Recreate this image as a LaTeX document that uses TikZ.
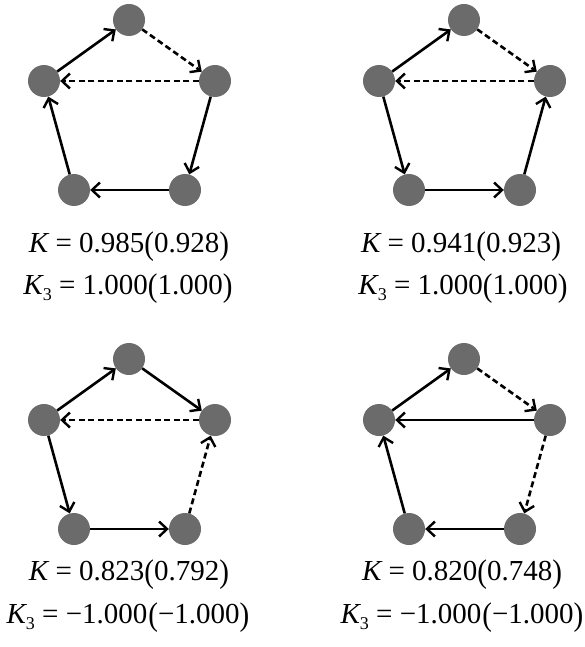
\documentclass[tikz,border=0pt]{standalone}
\usepackage{graphicx}
\usepackage{fontspec}
\setmainfont{Liberation Serif}
\usetikzlibrary{arrows.meta}
\definecolor{vgray}{RGB}{107,107,107}
\newcommand{\Kthree}{{\itshape K}\raisebox{-0.22em}{\fontsize{18}{18}\selectfont 3}}
\newcommand{\lpar}{\raisebox{-0.07em}{\scalebox{1}[1.13]{(}}}
\newcommand{\rpar}{\raisebox{-0.07em}{\scalebox{1}[1.13]{)}}}
\begin{document}
\begin{tikzpicture}[x=1pt,y=-1pt,
  vtx/.style={circle,fill=vgray,draw=none,minimum size=32pt,inner sep=0pt},
  arr/.style={line width=2.6pt,-{Straight Barb[length=8pt,width=15pt,line width=2.4pt]}},
  dsh/.style={arr,dash pattern=on 6pt off 3.5pt},
  lab/.style={anchor=base,inner sep=0pt,font=\fontsize{29}{34}\selectfont}]
\useasboundingbox (0,0) rectangle (585,647);
% panel 1
\begin{scope}
\node[vtx] (at) at (129,20) {};
\node[vtx] (al) at (44,81) {};
\node[vtx] (ar) at (215,81) {};
\node[vtx] (abl) at (74,190) {};
\node[vtx] (abr) at (185,190) {};
\draw[arr] (al) -- (at);
\draw[dsh] (at) -- (ar);
\draw[dsh] (ar) -- (al);
\draw[arr] (ar) -- (abr);
\draw[arr] (abr) -- (abl);
\draw[arr] (abl) -- (al);
\end{scope}
\node[lab] (ak) at (129,252) {{\itshape K} = 0.985\lpar0.928\rpar};
\node[lab] (ak3) at (128,294) {\Kthree\ = 1.000\lpar1.000\rpar};
% panel 2
\begin{scope}[xshift=335pt]
\node[vtx] (bt) at (129,20) {};
\node[vtx] (bl) at (44,81) {};
\node[vtx] (br) at (215,81) {};
\node[vtx] (bbl) at (74,190) {};
\node[vtx] (bbr) at (185,190) {};
\draw[arr] (bl) -- (bt);
\draw[dsh] (bt) -- (br);
\draw[dsh] (br) -- (bl);
\draw[arr] (bl) -- (bbl);
\draw[arr] (bbl) -- (bbr);
\draw[arr] (bbr) -- (br);
\end{scope}
\node[lab] (bk) at (461,252) {{\itshape K} = 0.941\lpar0.923\rpar};
\node[lab] (bk3) at (463,294) {\Kthree\ = 1.000\lpar1.000\rpar};
% panel 3
\begin{scope}[yshift=-339pt]
\node[vtx] (ct) at (129,20) {};
\node[vtx] (cl) at (44,81) {};
\node[vtx] (cr) at (215,81) {};
\node[vtx] (cbl) at (74,190) {};
\node[vtx] (cbr) at (185,190) {};
\draw[arr] (cl) -- (ct);
\draw[arr] (ct) -- (cr);
\draw[dsh] (cr) -- (cl);
\draw[arr] (cl) -- (cbl);
\draw[arr] (cbl) -- (cbr);
\draw[dsh] (cbr) -- (cr);
\end{scope}
\node[lab] (ck) at (129,580) {{\itshape K} = 0.823\lpar0.792\rpar};
\node[lab] (ck3) at (128,623) {\Kthree\ = −1.000\kern1pt\lpar−1.000\rpar};
% panel 4
\begin{scope}[xshift=335pt,yshift=-339pt]
\node[vtx] (dt) at (129,20) {};
\node[vtx] (dl) at (44,81) {};
\node[vtx] (dr) at (215,81) {};
\node[vtx] (dbl) at (74,190) {};
\node[vtx] (dbr) at (185,190) {};
\draw[arr] (dl) -- (dt);
\draw[dsh] (dt) -- (dr);
\draw[arr] (dr) -- (dl);
\draw[dsh] (dr) -- (dbr);
\draw[arr] (dbr) -- (dbl);
\draw[arr] (dbl) -- (dl);
\end{scope}
\node[lab] (dk) at (462,580) {{\itshape K} = 0.820\lpar0.748\rpar};
\node[lab] (dk3) at (462,623) {\Kthree\ = −1.000\kern1pt\lpar−1.000\rpar};
\end{tikzpicture}
\end{document}
